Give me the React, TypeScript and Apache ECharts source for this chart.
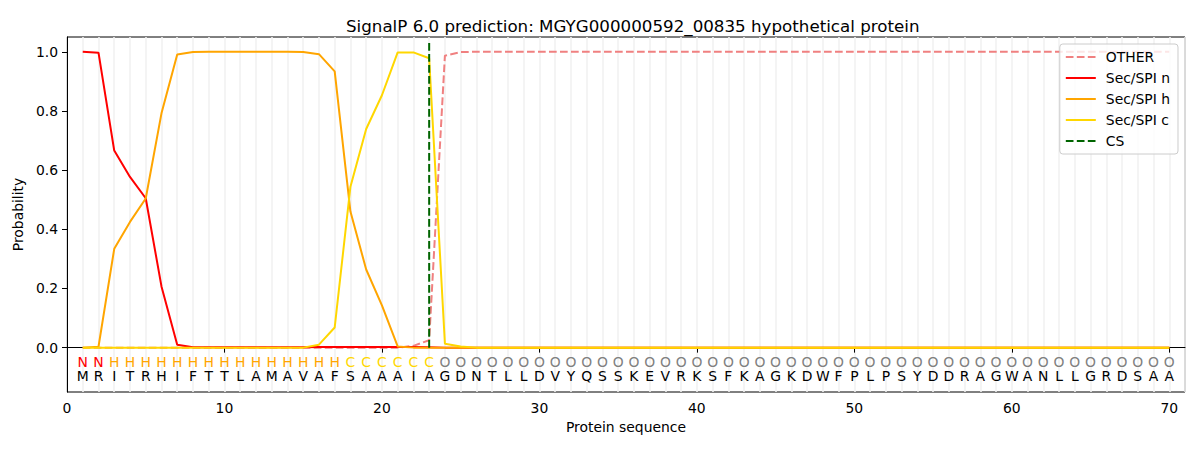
import React, { useEffect, useRef } from "react";
import * as echarts from "echarts";

const sequence = "MRITRHIFTTLAMAVAFSAAAIAGDNTLLDVYQSSKEVRKSFKAGKDWFPLPSYDDRAGWANLLGRDSAA".split("");
const regionLabels = "NNHHHHHHHHHHHHHHHCCCCCCOOOOOOOOOOOOOOOOOOOOOOOOOOOOOOOOOOOOOOOOOOOOOOO".split("");

const otherProb = [
  0, 0, 0, 0, 0, 0, 0, 0, 0, 0,
  0, 0, 0, 0, 0, 0, 0, 0, 0, 0,
  0, 0.006, 0.025, 0.987, 0.999, 1, 1, 1, 1, 1,
  1, 1, 1, 1, 1, 1, 1, 1, 1, 1,
  1, 1, 1, 1, 1, 1, 1, 1, 1, 1,
  1, 1, 1, 1, 1, 1, 1, 1, 1, 1,
  1, 1, 1, 1, 1, 1, 1, 1, 1, 1,
];
const nProb = [
  1.0, 0.997, 0.666, 0.577, 0.505, 0.207, 0.01, 0.001, 0.001, 0.001,
  0.001, 0.001, 0.001, 0.001, 0.001, 0.002, 0.002, 0.002, 0.002, 0.002,
  0.002, 0.002, 0.001, 0, 0, 0, 0, 0, 0, 0,
  0, 0, 0, 0, 0, 0, 0, 0, 0, 0,
  0, 0, 0, 0, 0, 0, 0, 0, 0, 0,
  0, 0, 0, 0, 0, 0, 0, 0, 0, 0,
  0, 0, 0, 0, 0, 0, 0, 0, 0, 0,
];
const hProb = [
  0, 0.003, 0.334, 0.425, 0.504, 0.792, 0.991, 0.999, 1.0, 1.0,
  1.0, 1.0, 1.0, 1.0, 0.999, 0.992, 0.934, 0.46, 0.264, 0.143,
  0.004, 0, 0, 0, 0, 0, 0, 0, 0, 0,
  0, 0, 0, 0, 0, 0, 0, 0, 0, 0,
  0, 0, 0, 0, 0, 0, 0, 0, 0, 0,
  0, 0, 0, 0, 0, 0, 0, 0, 0, 0,
  0, 0, 0, 0, 0, 0, 0, 0, 0, 0,
];
const cProb = [
  0, 0, 0, 0, 0, 0, 0, 0, 0, 0,
  0, 0, 0, 0, 0, 0.01, 0.068, 0.544, 0.739, 0.853,
  0.998, 0.998, 0.978, 0.013, 0.004, 0, 0, 0, 0, 0,
  0, 0, 0, 0, 0, 0, 0, 0, 0, 0,
  0, 0, 0, 0, 0, 0, 0, 0, 0, 0,
  0, 0, 0, 0, 0, 0, 0, 0, 0, 0,
  0, 0, 0, 0, 0, 0, 0, 0, 0, 0,
];
const csPosition = 23;
const csTop = 1.035;
const xTicks = [0, 10, 20, 30, 40, 50, 60, 70];
const yTicks = [0, 0.2, 0.4, 0.6, 0.8, 1.0];

const labelColors: Record<string, string> = {
  N: "#ff0000",
  H: "#ffa500",
  C: "#ffd700",
  O: "#808080",
};

const FONT = '"DejaVu Sans", sans-serif';

export default function App() {
  const ref = useRef<HTMLDivElement>(null);
  useEffect(() => {
    if (!ref.current) return;
    const chart = echarts.init(ref.current, undefined, { renderer: "svg" });
    const toPts = (arr: number[]) => arr.map((v, i) => [i + 1, v]);
    const dashed = [7.7, 3.3];
    const lineSeries = (name: string, data: number[], color: string, dash?: number[]) => ({
      name,
      type: "line",
      data: toPts(data),
      symbol: "none",
      showSymbol: false,
      lineStyle: { color, width: 2, type: dash ? dash : "solid" },
      itemStyle: { color },
      z: 3,
    });
    const letterData = sequence.map((_, i) => [i + 1, 0, i]);
    const option: any = {
      animation: false,
      backgroundColor: "#ffffff",
      textStyle: { fontFamily: FONT },
      title: {
        text: "SignalP 6.0 prediction: MGYG000000592_00835 hypothetical protein",
        left: 341,
        top: 12,
        textStyle: { fontFamily: FONT, fontSize: 16.7, fontWeight: "normal", color: "#000" },
      },
      grid: {
        left: 67,
        right: 15,
        top: 37,
        bottom: 58,
        show: true,
        borderColor: "#000",
        borderWidth: 1,
        backgroundColor: "transparent",
      },
      legend: {
        orient: "vertical",
        right: 22,
        top: 44,
        padding: [6, 8, 6, 5],
        itemWidth: 30,
        itemHeight: 14,
        itemGap: 7,
        backgroundColor: "rgba(255,255,255,0.8)",
        borderColor: "#cccccc",
        borderWidth: 1,
        borderRadius: 3,
        itemStyle: { opacity: 0 },
        textStyle: { fontFamily: FONT, fontSize: 13.9, color: "#000", padding: [0, 0, 0, 5] },
        data: ["OTHER", "Sec/SPI n", "Sec/SPI h", "Sec/SPI c", "CS"],
      },
      xAxis: [
        {
          type: "value",
          min: 0,
          max: 71,
          name: "Protein sequence",
          nameLocation: "middle",
          nameGap: 27,
          nameTextStyle: { fontFamily: FONT, fontSize: 13.9, color: "#000" },
          axisLine: { show: true, lineStyle: { color: "#000", width: 1 } },
          axisTick: { show: true, length: 5, lineStyle: { color: "#000" }, customValues: xTicks },
          axisLabel: {
            show: true,
            margin: 9,
            fontFamily: FONT,
            fontSize: 13.9,
            color: "#000",
            customValues: xTicks,
          },
          splitLine: { show: false },
        },
        {
          type: "value",
          min: 0,
          max: 71,
          interval: 1,
          position: "bottom",
          axisLine: { show: false },
          axisTick: { show: false },
          axisLabel: { show: false },
          splitLine: { show: true, lineStyle: { color: "#f2f2f2", width: 1.6 } },
        },
      ],
      yAxis: {
        type: "value",
        min: -0.15,
        max: 1.05,
        name: "Probability",
        nameLocation: "middle",
        nameGap: 35,
        nameTextStyle: { fontFamily: FONT, fontSize: 13.9, color: "#000" },
        axisLine: { show: true, lineStyle: { color: "#000", width: 1 } },
        axisTick: { show: true, length: 5, lineStyle: { color: "#000" }, customValues: yTicks },
        axisLabel: {
          show: true,
          margin: 9,
          fontFamily: FONT,
          fontSize: 13.9,
          color: "#000",
          customValues: yTicks,
          formatter: (v: number) => v.toFixed(1),
        },
        splitLine: { show: false },
      },
      series: [
        lineSeries("OTHER", otherProb, "#f08080", dashed),
        lineSeries("Sec/SPI n", nProb, "#ff0000"),
        lineSeries("Sec/SPI h", hProb, "#ffa500"),
        lineSeries("Sec/SPI c", cProb, "#ffd700"),
        {
          name: "CS",
          type: "line",
          data: [
            [csPosition, 0],
            [csPosition, csTop],
          ],
          symbol: "none",
          showSymbol: false,
          lineStyle: { color: "#006400", width: 2, type: dashed },
          itemStyle: { color: "#006400" },
          z: 4,
        },
        {
          type: "custom",
          name: "letters",
          data: letterData,
          renderItem: (params: any, api: any) => {
            const idx = api.value(2);
            const x = api.value(0);
            const p1 = api.coord([x, -0.047]);
            const p2 = api.coord([x, -0.097]);
            const reg = regionLabels[idx];
            return {
              type: "group",
              children: [
                {
                  type: "text",
                  x: p1[0],
                  y: p1[1],
                  style: {
                    text: reg,
                    fill: labelColors[reg],
                    font: `13.9px ${FONT}`,
                    align: "center",
                    verticalAlign: "middle",
                  },
                },
                {
                  type: "text",
                  x: p2[0],
                  y: p2[1],
                  style: {
                    text: sequence[idx],
                    fill: "#000",
                    font: `13.9px ${FONT}`,
                    align: "center",
                    verticalAlign: "middle",
                  },
                },
              ],
            };
          },
          z: 5,
        },
      ],
    };
    chart.setOption(option);
    return () => chart.dispose();
  }, []);
  return (
    <div
      ref={ref}
      style={{ position: "fixed", left: 0, top: 0, width: 1200, height: 450 }}
    />
  );
}
